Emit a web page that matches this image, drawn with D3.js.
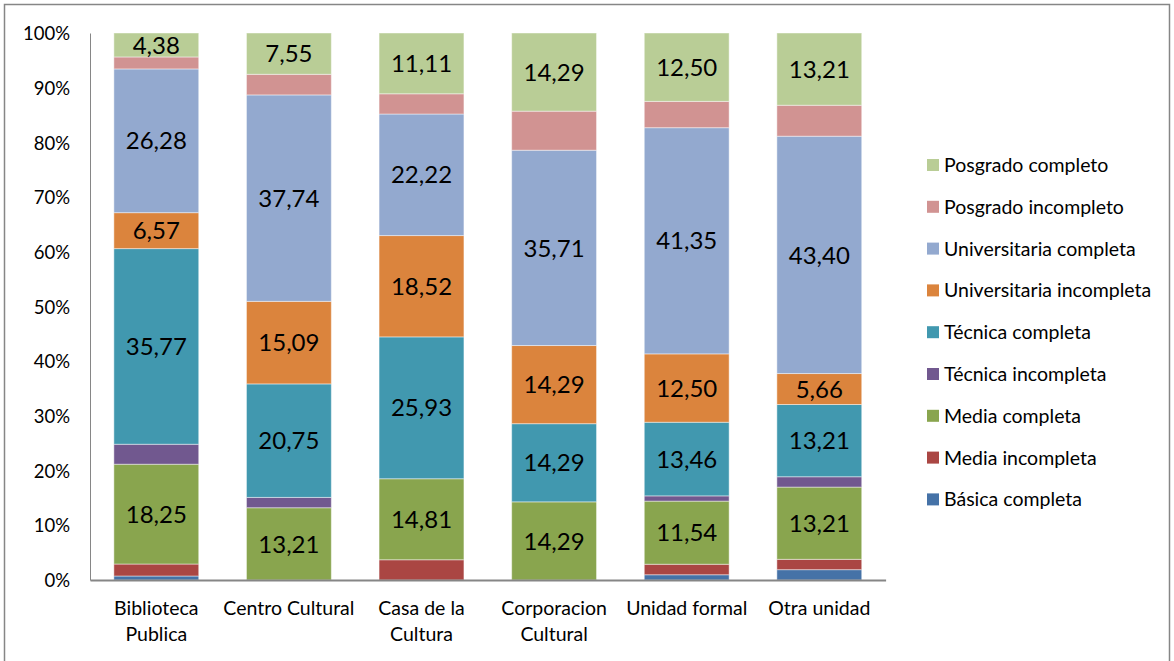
<!DOCTYPE html>
<html>
<head>
<meta charset="utf-8">
<title>Nivel educativo por tipo de unidad</title>
<style>
  body { margin: 0; background: #fff; }
  svg { font-family: Lato, "Open Sans", sans-serif; }
  .axis path, .axis line { stroke: #868686; }
  .axis text { fill: #000; font-size: 18.5px; font-family: Lato, sans-serif; }
  .xlab text { font-size: 19.5px; }
  .lbl { font-size: 24px; fill: #000; }
  .legend text { font-size: 19.5px; fill: #000; }
</style>
<script src="https://cdn.jsdelivr.net/npm/d3@7"></script>
</head>
<body>
<script>
// categories (x axis)
var categories = ["Biblioteca Publica", "Centro Cultural", "Casa de la Cultura",
                  "Corporacion Cultural", "Unidad formal", "Otra unidad"];
var categoryLines = [["Biblioteca", "Publica"], ["Centro Cultural"], ["Casa de la", "Cultura"],
                     ["Corporacion", "Cultural"], ["Unidad formal"], ["Otra unidad"]];

// series values (%), bottom to top
var basicaCompleta     = [0.73, 0, 0, 0, 0.96, 1.89];
var mediaIncompleta    = [2.19, 0, 3.70, 0, 1.92, 1.89];
var mediaCompleta      = [18.25, 13.21, 14.81, 14.29, 11.54, 13.21];
var tecnicaIncompleta  = [3.65, 1.89, 0, 0, 0.96, 1.89];
var tecnicaCompleta    = [35.77, 20.75, 25.93, 14.29, 13.46, 13.21];
var univIncompleta     = [6.57, 15.09, 18.52, 14.29, 12.50, 5.66];
var univCompleta       = [26.28, 37.74, 22.22, 35.71, 41.35, 43.40];
var posgradoIncompleto = [2.19, 3.77, 3.70, 7.14, 4.81, 5.66];
var posgradoCompleto   = [4.38, 7.55, 11.11, 14.29, 12.50, 13.21];

var seriesNames = ["Básica completa", "Media incompleta", "Media completa", "Técnica incompleta",
                   "Técnica completa", "Universitaria incompleta", "Universitaria completa",
                   "Posgrado incompleto", "Posgrado completo"];
var seriesValues = [basicaCompleta, mediaIncompleta, mediaCompleta, tecnicaIncompleta,
                    tecnicaCompleta, univIncompleta, univCompleta, posgradoIncompleto, posgradoCompleto];
var seriesColors = ["#4572A7", "#AA4643", "#89A54E", "#71588F", "#4198AF",
                    "#DB843D", "#93A9CF", "#D19392", "#B9CD96"];
// series that carry data labels
var labelled = ["Media completa", "Técnica completa", "Universitaria incompleta",
                "Universitaria completa", "Posgrado completo"];

var yTicks = [0, 0.1, 0.2, 0.3, 0.4, 0.5, 0.6, 0.7, 0.8, 0.9, 1];

// build table for d3.stack
var table = categories.map(function(c, i) {
  var row = { cat: c };
  seriesNames.forEach(function(s, j) { row[s] = seriesValues[j][i]; });
  return row;
});

var W = 1174, H = 661;
var margin = { top: 33, left: 90 },
    width = 795.6, height = 547;

var svg = d3.select("body").append("svg")
  .attr("width", W).attr("height", H);

// chart border
svg.append("rect")
  .attr("x", 4.5).attr("y", 4.5)
  .attr("width", 1165).attr("height", 700)
  .attr("fill", "none").attr("stroke", "#868686").attr("stroke-width", 1.5);

var g = svg.append("g")
  .attr("transform", "translate(" + margin.left + "," + margin.top + ")");

var x = d3.scaleBand()
  .domain(categories)
  .range([0, width])
  .paddingInner(0.36)
  .paddingOuter(0.18);

var y = d3.scaleLinear()
  .domain([0, 1])
  .range([height, 0]);

var stack = d3.stack().keys(seriesNames).offset(d3.stackOffsetExpand);
var layers = stack(table);

var color = d3.scaleOrdinal().domain(seriesNames).range(seriesColors);

var layer = g.selectAll(".layer")
  .data(layers)
  .enter().append("g")
  .attr("class", "layer")
  .attr("fill", function(d) { return color(d.key); });

layer.selectAll("rect")
  .data(function(d) { return d; })
  .enter().append("rect")
  .attr("x", function(d) { return x(d.data.cat); })
  .attr("width", x.bandwidth())
  .attr("y", function(d) { return y(d[1]); })
  .attr("height", function(d) { return y(d[0]) - y(d[1]); })
  .attr("stroke", "rgba(255,255,255,0.45)")
  .attr("stroke-width", 1);

// data labels
var fmt = d3.format(".2f");
layer.filter(function(d) { return labelled.indexOf(d.key) >= 0; })
  .selectAll("text")
  .data(function(d) { return d.map(function(p) { p.key = d.key; return p; }); })
  .enter().append("text")
  .attr("class", "lbl")
  .attr("x", function(d) { return x(d.data.cat) + x.bandwidth() / 2; })
  .attr("y", function(d) { return (y(d[0]) + y(d[1])) / 2; })
  .attr("dy", "0.36em")
  .attr("text-anchor", "middle")
  .text(function(d) { return fmt(d.data[d.key]).replace(".", ","); });

// y axis
g.append("g")
  .attr("class", "axis")
  .call(d3.axisLeft(y).tickValues(yTicks).tickSize(0).tickPadding(20)
    .tickFormat(function(d) { return Math.round(d * 100) + "%"; }))
  .selectAll("text").attr("dy", "0.36em");

// x axis
var xa = g.append("g")
  .attr("class", "axis xlab")
  .attr("transform", "translate(0," + height + ")")
  .call(d3.axisBottom(x).tickSize(0).tickFormat(""));
xa.select(".domain").attr("stroke-width", 2);

xa.selectAll(".tick").each(function(d, i) {
  var t = d3.select(this).append("text")
    .attr("y", 35)
    .attr("text-anchor", "middle");
  categoryLines[i].forEach(function(line, k) {
    t.append("tspan").attr("x", 0).attr("dy", k === 0 ? 0 : 26).text(line);
  });
});

// legend (top entry = last series)
var legend = svg.append("g").attr("class", "legend")
  .attr("transform", "translate(927,165)");
var legendOrder = seriesNames.slice().reverse();
var item = legend.selectAll("g")
  .data(legendOrder)
  .enter().append("g")
  .attr("transform", function(d, i) { return "translate(0," + (i * 41.8) + ")"; });
item.append("rect")
  .attr("x", 0).attr("y", -6)
  .attr("width", 12).attr("height", 12)
  .attr("fill", function(d) { return color(d); });
item.append("text")
  .attr("x", 17).attr("dy", "0.36em")
  .text(function(d) { return d; });
</script>
</body>
</html>
